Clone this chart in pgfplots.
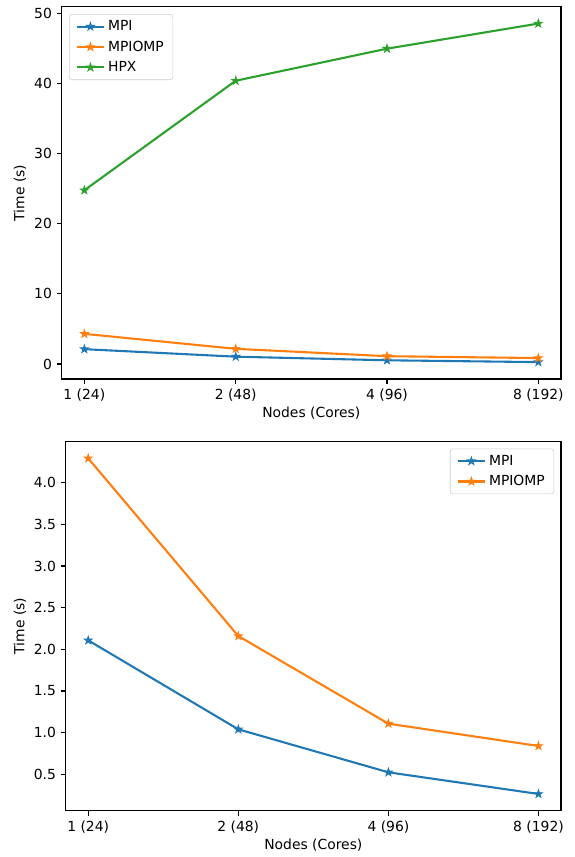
\documentclass[border=0pt]{standalone}
\usepackage{fontspec}
\setmainfont{DejaVu Sans}
\usepackage{pgfplots}
\pgfplotsset{compat=1.18}

\definecolor{c0}{HTML}{1F77B4}
\definecolor{c1}{HTML}{FF7F0E}
\definecolor{c2}{HTML}{2CA02C}

\pgfdeclareplotmark{mstar}{%
  \pgfpathmoveto{\pgfpointpolar{90}{\pgfplotmarksize}}%
  \pgfpathlineto{\pgfpointpolar{126}{0.382\pgfplotmarksize}}%
  \pgfpathlineto{\pgfpointpolar{162}{\pgfplotmarksize}}%
  \pgfpathlineto{\pgfpointpolar{198}{0.382\pgfplotmarksize}}%
  \pgfpathlineto{\pgfpointpolar{234}{\pgfplotmarksize}}%
  \pgfpathlineto{\pgfpointpolar{270}{0.382\pgfplotmarksize}}%
  \pgfpathlineto{\pgfpointpolar{306}{\pgfplotmarksize}}%
  \pgfpathlineto{\pgfpointpolar{342}{0.382\pgfplotmarksize}}%
  \pgfpathlineto{\pgfpointpolar{18}{\pgfplotmarksize}}%
  \pgfpathlineto{\pgfpointpolar{54}{0.382\pgfplotmarksize}}%
  \pgfpathclose
  \pgfusepathqfillstroke}

\pgfplotsset{
  mpl/.style={
    scale only axis,
    axis line style={line width=0.8pt},
    tick align=outside, xtick pos=bottom, ytick pos=left,
    major tick length=3.5pt,
    every tick/.style={black, line width=0.8pt},
    xmin=-0.15, xmax=3.15,
    xtick={0,1,2,3}, xticklabels={1 (24),2 (48),4 (96),8 (192)},
    xlabel={Nodes (Cores)}, ylabel={Time (s)},
    xlabel style={at={(axis description cs:0.5,0)}, anchor=center, yshift=-24.7pt},
    /pgf/number format/assume math mode=true,
    tick label style={font=\fontsize{10}{12}\selectfont},
    label style={font=\fontsize{10}{12}\selectfont},
    legend cell align=left,
    legend style={draw=black!20, rounded corners=2pt, fill=white, fill opacity=0.8, text opacity=1,
      font=\fontsize{10}{12}\selectfont, inner xsep=4.5pt, inner ysep=2.5pt, row sep=1.8pt,
      nodes={inner sep=2pt}},
    legend image code/.code={\draw[mark repeat=2,mark phase=2] plot coordinates {(0cm,0cm) (0.35cm,0cm) (0.7cm,0cm)};},
    every axis plot/.append style={line width=1.5pt, mark=mstar, mark size=3pt, mark options={solid, line width=0.6pt}},
  }
}

\begin{document}
\begin{tikzpicture}
\path[use as bounding box] (0,0) rectangle (413.3pt,-617pt);

\begin{axis}[mpl,
  at={(44.4pt,-4.8pt)}, anchor=north west,
  width=359.5pt, height=268.1pt,
  ymin=-2.15, ymax=50.93, ytick={0,10,20,30,40,50},
  ylabel style={at={(axis description cs:0,0.5)}, anchor=center, rotate=0, yshift=30pt},
  legend style={at={(0,1)}, anchor=north west, xshift=5.3pt, yshift=-5.3pt},
]
\addplot[c0] coordinates {(0,2.108) (1,1.04) (2,0.524) (3,0.264)};
\addlegendentry{MPI}
\addplot[c1] coordinates {(0,4.293) (1,2.16) (2,1.108) (3,0.84)};
\addlegendentry{MPIOMP}
\addplot[c2] coordinates {(0,24.76) (1,40.37) (2,44.94) (3,48.52)};
\addlegendentry{HPX}
\end{axis}

\begin{axis}[mpl,
  at={(47.3pt,-317.9pt)}, anchor=north west,
  width=356.6pt, height=265.8pt,
  ymin=0.0625, ymax=4.4945, ytick={0.5,1,1.5,2,2.5,3,3.5,4},
  yticklabel style={/pgf/number format/.cd, fixed, fixed zerofill, precision=1},
  ylabel style={at={(axis description cs:0,0.5)}, anchor=center, rotate=0, yshift=32.9pt},
  legend style={at={(1,1)}, anchor=north east, xshift=-5pt, yshift=-5pt},
]
\addplot[c0] coordinates {(0,2.108) (1,1.04) (2,0.524) (3,0.264)};
\addlegendentry{MPI}
\addplot[c1] coordinates {(0,4.293) (1,2.16) (2,1.108) (3,0.84)};
\addlegendentry{MPIOMP}
\end{axis}
\end{tikzpicture}
\end{document}
